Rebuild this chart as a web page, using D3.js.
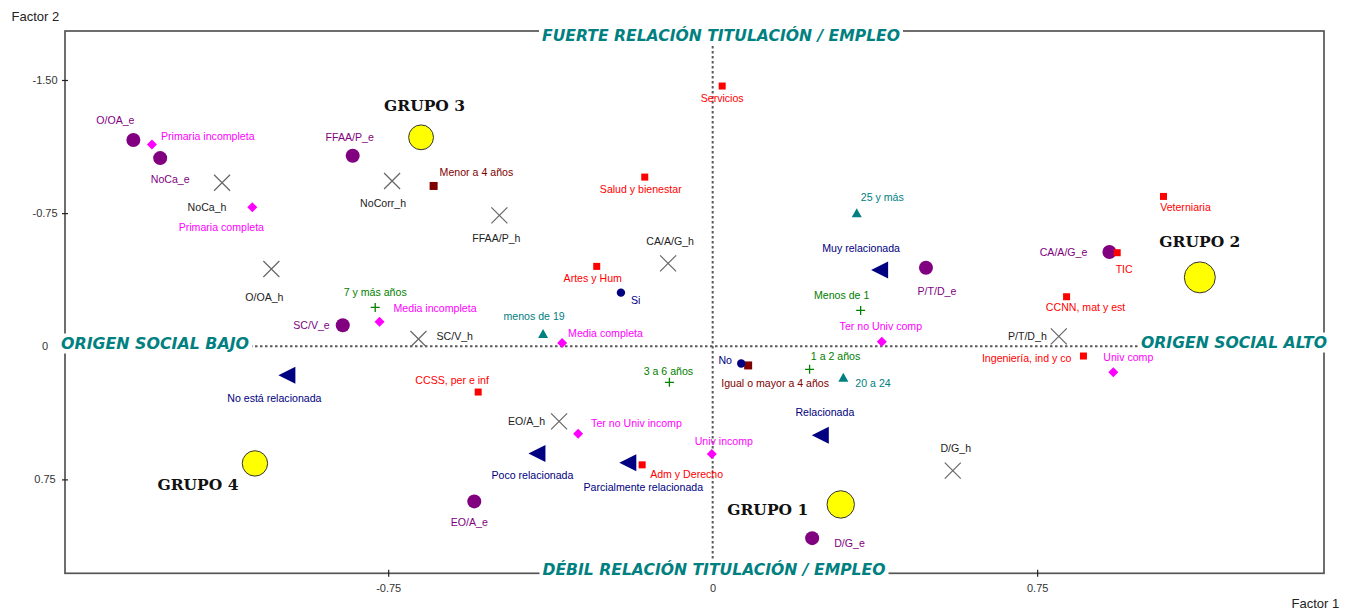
<!DOCTYPE html>
<html>
<head>
<meta charset="utf-8">
<script src="https://cdn.jsdelivr.net/npm/d3@7"></script>
<style>
  html, body { margin: 0; padding: 0; background: #fff; }
  svg { display: block; }
  .lbl { font-family: "Liberation Sans", Arial, sans-serif; font-size: 10.6px; }
  .tick text { font-family: "Liberation Sans", Arial, sans-serif; font-size: 11px; fill: #333; }
</style>
</head>
<body>
<svg id="chart" width="1354" height="613"></svg>
<script>
// ---------------- DATA (Factor 1, Factor 2) ----------------
const estudiosE = [
  ["O/OA_e", -1.339, -1.162], ["NoCa_e", -1.277, -1.060], ["FFAA/P_e", -0.832, -1.073],
  ["SC/V_e", -0.855, -0.118], ["P/T/D_e", 0.493, -0.442], ["CA/A/G_e", 0.917, -0.531],
  ["EO/A_e", -0.551, 0.874], ["D/G_e", 0.230, 1.081]
];
const estudiosH = [
  ["NoCa_h", -1.134, -0.921], ["NoCorr_h", -0.741, -0.931], ["FFAA/P_h", -0.493, -0.737],
  ["CA/A/G_h", -0.103, -0.467], ["O/OA_h", -1.020, -0.435], ["SC/V_h", -0.680, -0.041],
  ["P/T/D_h", 0.800, -0.056], ["EO/A_h", -0.355, 0.423], ["D/G_h", 0.555, 0.701]
];
const nivelEstudios = [
  ["Primaria incompleta", -1.296, -1.137], ["Primaria completa", -1.064, -0.783],
  ["Media incompleta", -0.770, -0.138], ["Media completa", -0.348, -0.018],
  ["Ter no Univ comp", 0.391, -0.025], ["Univ comp", 0.926, 0.147],
  ["Ter no Univ incomp", -0.311, 0.493], ["Univ incomp", -0.002, 0.607]
];
const ramas = [
  ["Servicios", 0.022, -1.466], ["Salud y bienestar", -0.157, -0.953], ["Veterniaria", 1.042, -0.844],
  ["TIC", 0.935, -0.527], ["Artes y Hum", -0.268, -0.450], ["CCNN, mat y est", 0.818, -0.279],
  ["Ingeniería, ind y co", 0.857, 0.055], ["CCSS, per e inf", -0.542, 0.258], ["Adm y Derecho", -0.163, 0.668]
];
const duracion = [
  ["Menor a 4 años", -0.645, -0.903], ["Igual o mayor a 4 años", 0.082, 0.108]
];
const siNo = [
  ["Si", -0.212, -0.302], ["No", 0.066, 0.097]
];
const relacion = [
  ["Muy relacionada", 0.387, -0.429], ["No está relacionada", -0.983, 0.164],
  ["Relacionada", 0.250, 0.502], ["Poco relacionada", -0.405, 0.604],
  ["Parcialmente relacionada", -0.195, 0.656]
];
const anios = [
  ["7 y más años", -0.780, -0.219], ["Menos de 1", 0.342, -0.202],
  ["1 a 2 años", 0.224, 0.130], ["3 a 6 años", -0.100, 0.203]
];
const edad = [
  ["25 y más", 0.333, -0.749], ["menos de 19", -0.392, -0.069], ["20 a 24", 0.302, 0.177]
];
const grupos = [
  ["GRUPO 1", 0.296, 0.891], ["GRUPO 2", 1.126, -0.388],
  ["GRUPO 3", -0.674, -1.177], ["GRUPO 4", -1.058, 0.660]
];
const grupoPeso = [188, 240, 154, 161];

const xTickVals = [-0.75, 0, 0.75];
const xTickLabels = ["-0.75", "0", "0.75"];
const yTickVals = [-1.5, -0.75, 0, 0.75];
const yTickLabels = ["-1.50", "-0.75", "0", "0.75"];

const ejeTextos = {
  top: "FUERTE RELACIÓN TITULACIÓN / EMPLEO",
  bottom: "DÉBIL RELACIÓN TITULACIÓN / EMPLEO",
  left: "ORIGEN SOCIAL BAJO",
  right: "ORIGEN SOCIAL ALTO"
};

// ---------------- LAYOUT ----------------
const labelLayout = {
  "O/OA_e": [-18, -20, "m"], "NoCa_e": [10, 21, "m"], "FFAA/P_e": [-3, -19, "m"],
  "SC/V_e": [-13, 0, "e"], "P/T/D_e": [11, 23, "m"], "CA/A/G_e": [-22, 0, "e"],
  "EO/A_e": [-5, 21, "m"], "D/G_e": [22, 5, "s"],
  "NoCa_h": [-15, 25, "m"], "NoCorr_h": [-9, 22, "m"], "FFAA/P_h": [-3, 23, "m"],
  "CA/A/G_h": [2, -22, "m"], "O/OA_h": [-7, 28, "m"], "SC/V_h": [18, -3, "s"],
  "P/T/D_h": [-12, 0, "e"], "EO/A_h": [-14, 0, "e"], "D/G_h": [3, -22, "m"],
  "Primaria incompleta": [9, -8, "s"], "Primaria completa": [-31, 20, "m"],
  "Media incompleta": [14, -13, "s"], "Media completa": [6, -10, "s"],
  "Ter no Univ comp": [-1, -16, "m"], "Univ comp": [15, -15, "m"],
  "Ter no Univ incomp": [13, -10, "s"], "Univ incomp": [12, -13, "m"],
  "Servicios": [0, 12, "m"], "Salud y bienestar": [-4, 12, "m"], "Veterniaria": [22, 11, "m"],
  "TIC": [7, 17, "m"], "Artes y Hum": [-4, 12, "m"], "CCNN, mat y est": [19, 11, "m"],
  "Ingeniería, ind y co": [-12, 2, "e"], "CCSS, per e inf": [-26, -12, "m"],
  "Adm y Derecho": [8, 9, "s"],
  "Menor a 4 años": [6, -14, "s"], "Igual o mayor a 4 años": [27, 18, "m"],
  "Si": [10, 8, "s"], "No": [-16, -3, "m"],
  "Muy relacionada": [-19, -22, "m"], "No está relacionada": [-13, 23, "m"],
  "Relacionada": [4, -23, "m"], "Poco relacionada": [-5, 22, "m"],
  "Parcialmente relacionada": [15, 25, "m"],
  "7 y más años": [0, -15, "m"], "Menos de 1": [-19, -15, "m"],
  "1 a 2 años": [26, -13, "m"], "3 a 6 años": [-1, -11, "m"],
  "25 y más": [4, -16, "s"], "menos de 19": [-9, -18, "m"], "20 a 24": [12, 6, "s"],
  "GRUPO 1": [-73, 6, "m"], "GRUPO 2": [0, -35, "m"], "GRUPO 3": [3.5, -31, "m"], "GRUPO 4": [-57, 22, "m"]
};
const anchorMap = { m: "middle", s: "start", e: "end" };

const L = 65, R = 1324, T = 31, B = 573.3;
const svg = d3.select("#chart");
const x = d3.scaleLinear().domain([-1.497, 1.413]).range([L, R]);
const y = d3.scaleLinear().domain([-1.776, 1.279]).range([T, B]);

// Frame
const frameCol = "#555";
svg.append("rect").attr("x", L).attr("y", T).attr("width", R - L).attr("height", B - T)
  .attr("fill", "none").attr("stroke", frameCol).attr("stroke-width", 1.7);

// Dashed zero lines
svg.append("line").attr("x1", L).attr("x2", R).attr("y1", y(0)).attr("y2", y(0))
  .attr("stroke", "#5a5a5a").attr("stroke-width", 2).attr("stroke-dasharray", "2.5,2.5");
svg.append("line").attr("x1", x(0)).attr("x2", x(0)).attr("y1", T).attr("y2", B)
  .attr("stroke", "#5a5a5a").attr("stroke-width", 2).attr("stroke-dasharray", "2.5,2.5");

// Axes
const yAxis = d3.axisLeft(y).tickValues(yTickVals)
  .tickFormat((d, i) => yTickLabels[i]).tickSize(3).tickPadding(0);
const gy = svg.append("g").attr("transform", `translate(${L},0)`).call(yAxis);
gy.select(".domain").remove();
gy.selectAll(".tick line").attr("x1", 3).attr("x2", -3).attr("stroke", "#222").attr("stroke-width", 1.2);
gy.selectAll(".tick text").attr("x", -20).attr("text-anchor", "middle");

const xAxis = d3.axisBottom(x).tickValues(xTickVals)
  .tickFormat((d, i) => xTickLabels[i]).tickSize(3.5).tickPadding(0);
const gx = svg.append("g").attr("transform", `translate(0,${B})`).call(xAxis);
gx.select(".domain").remove();
gx.selectAll(".tick line").attr("y1", -3.5).attr("y2", 3.5).attr("stroke", "#222").attr("stroke-width", 1.2);
gx.selectAll(".tick text").attr("y", 15).attr("dy", "0.35em");

// Axis titles
svg.append("text").attr("x", 11.5).attr("y", 16).attr("dy", "0.35em")
  .style("font-family", "'Liberation Sans', Arial, sans-serif").style("font-size", "13px")
  .attr("fill", "#222").text("Factor 2");
svg.append("text").attr("x", 1291.5).attr("y", 603).attr("dy", "0.35em")
  .style("font-family", "'Liberation Sans', Arial, sans-serif").style("font-size", "13px")
  .attr("fill", "#222").text("Factor 1");

// Teal annotations with white background
function teal(txt, cx, cy, len) {
  const g = svg.append("g");
  const bg = g.append("rect").attr("fill", "#fff");
  g.append("text").attr("x", cx).attr("y", cy).attr("dy", "0.36em")
    .attr("text-anchor", "middle")
    .style("font-family", "'DejaVu Sans', Verdana, sans-serif")
    .style("font-size", "15.5px").style("font-weight", "bold").style("font-style", "italic")
    .attr("fill", "#008080")
    .attr("textLength", len).attr("lengthAdjust", "spacingAndGlyphs")
    .text(txt);
  bg.attr("x", cx - len / 2 - 3).attr("y", cy - 10).attr("width", len + 6).attr("height", 20);
}
teal(ejeTextos.top, 721, 35, 358);
teal(ejeTextos.bottom, 714, 569, 343);
teal(ejeTextos.left, 155, 343.5, 188);
teal(ejeTextos.right, 1234, 342.5, 186);

// Markers
const sym = {
  circleE: (g) => g.append("circle").attr("r", 7).attr("fill", "#800080"),
  cross: (g) => { g.append("path").attr("d", "M-8,-8L8,8M-8,8L8,-8").attr("stroke", "#666").attr("stroke-width", 1.2).attr("fill", "none"); },
  diamond: (g) => g.append("path").attr("d", "M0,-5L5,0L0,5L-5,0Z").attr("fill", "#FF00FF"),
  sqRed: (g) => g.append("rect").attr("x", -3.5).attr("y", -3.5).attr("width", 7).attr("height", 7).attr("fill", "#FF0000"),
  sqDark: (g) => g.append("rect").attr("x", -4).attr("y", -4).attr("width", 8).attr("height", 8).attr("fill", "#800000"),
  dot: (g) => g.append("circle").attr("r", 4.2).attr("fill", "#000080"),
  triLeft: (g) => g.append("path").attr("d", "M-9,0L8,-8.5L8,8.5Z").attr("fill", "#000080"),
  plus: (g) => { g.append("path").attr("d", "M-4.5,0H4.5M0,-4.5V4.5").attr("stroke", "#008000").attr("stroke-width", 1.3).attr("fill", "none"); },
  triUp: (g) => g.append("path").attr("d", "M0,-5L5,4L-5,4Z").attr("fill", "#008080")
};

const series = [
  { data: estudiosE, shape: "circleE", color: "#800080" },
  { data: estudiosH, shape: "cross", color: "#222" },
  { data: nivelEstudios, shape: "diamond", color: "#FF00FF" },
  { data: ramas, shape: "sqRed", color: "#FF0000" },
  { data: duracion, shape: "sqDark", color: "#800000" },
  { data: relacion, shape: "triLeft", color: "#000080" },
  { data: anios, shape: "plus", color: "#008000" },
  { data: edad, shape: "triUp", color: "#008080" },
  { data: siNo, shape: "dot", color: "#000080" }
];

series.forEach(s => {
  s.data.forEach(d => {
    const px = x(d[1]), py = y(d[2]);
    const g = svg.append("g").attr("transform", `translate(${px},${py})`);
    sym[s.shape](g);
    const lay = labelLayout[d[0]] || [0, 14, "m"];
    svg.append("text").attr("class", "lbl")
      .attr("x", px + lay[0]).attr("y", py + lay[1]).attr("dy", "0.35em")
      .attr("text-anchor", anchorMap[lay[2]])
      .attr("fill", s.color).text(d[0]);
  });
});

// Groups
const rScale = d3.scaleSqrt().domain([0, d3.max(grupoPeso)]).range([0, 15.5]);
grupos.forEach((d, i) => {
  const px = x(d[1]), py = y(d[2]);
  svg.append("circle").attr("cx", px).attr("cy", py).attr("r", rScale(grupoPeso[i]))
    .attr("fill", "#FFFF00").attr("stroke", "#333").attr("stroke-width", 1);
  const lay = labelLayout[d[0]];
  svg.append("text").attr("x", px + lay[0]).attr("y", py + lay[1]).attr("dy", "0.36em")
    .attr("text-anchor", "middle")
    .style("font-family", "'DejaVu Serif', 'Liberation Serif', serif")
    .style("font-size", "14px").style("font-weight", "bold")
    .attr("fill", "#111")
    .attr("textLength", 81).attr("lengthAdjust", "spacingAndGlyphs")
    .text(d[0]);
});
</script>
</body>
</html>
